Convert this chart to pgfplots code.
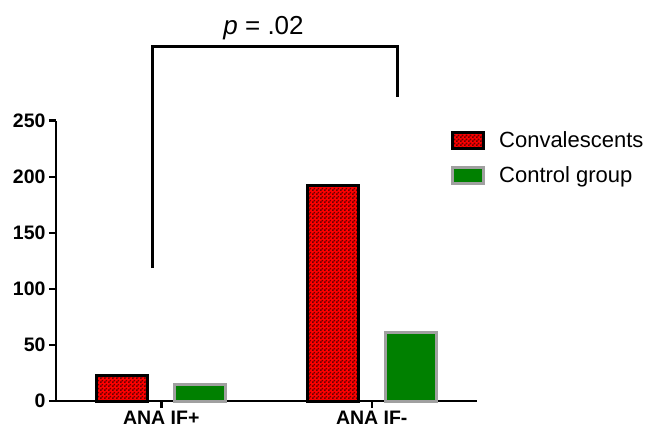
\documentclass[border=0pt]{standalone}
\usepackage{fontspec}
\setmainfont{Liberation Sans}
\usepackage{pgfplots}
\pgfplotsset{compat=1.18}
\usetikzlibrary{patterns}
\pgfdeclarepatternformonly{finecheck}{\pgfpointorigin}{\pgfpoint{4pt}{4pt}}{\pgfpoint{4pt}{4pt}}{%
  \pgfpathrectangle{\pgfpointorigin}{\pgfpoint{2pt}{2pt}}%
  \pgfpathrectangle{\pgfpoint{2pt}{2pt}}{\pgfpoint{2pt}{2pt}}%
  \pgfusepath{fill}}
\definecolor{barred}{RGB}{255,0,0}
\definecolor{checkdark}{RGB}{105,0,0}
\definecolor{bargreen}{RGB}{0,128,0}
\definecolor{bargray}{RGB}{160,160,160}
\begin{document}
\begin{tikzpicture}
\useasboundingbox (-56pt,-33pt) rectangle (592pt,401pt);
\begin{axis}[
  scale only axis,
  width=421pt, height=280.3pt,
  xmin=-0.5, xmax=1.5, ymin=0, ymax=250,
  axis lines=left,
  axis line style={-, line width=2.5pt},
  every tick/.style={black, line width=2.5pt},
  major tick length=7pt,
  tick align=outside,
  xtick={0,1}, xticklabels={ANA IF+, ANA IF-},
  ytick={0,50,100,150,200,250},
  /pgf/number format/assume math mode=true,
  ticklabel style={font=\bfseries\fontsize{19.5}{21}\selectfont},
  clip=false,
  legend style={at={(0.931,0.975)}, anchor=north west, draw=none, fill=none,
    font=\fontsize{22}{24}\selectfont, cells={anchor=west}, row sep=13pt,
    /tikz/every odd column/.append style={column sep=12pt}},
  legend image code/.code={\draw[#1] (0pt,-8pt) rectangle (31pt,8pt);},
]
\addplot[ybar, bar width=51pt, bar shift=-39pt, draw=black, line width=3pt, fill=barred,
  postaction={pattern=finecheck, pattern color=checkdark}]
  coordinates {(0,23) (1,192)};
\addlegendentry{Convalescents}
\addplot[ybar, bar width=51pt, bar shift=39pt, draw=bargray, line width=3pt, fill=bargreen]
  coordinates {(0,15) (1,61)};
\addlegendentry{Control group}
\addplot[black, line width=2.5pt, sharp plot, forget plot]
  coordinates {(-0.042,118.6) (-0.042,316) (1.123,316) (1.123,271.5)};
\node[anchor=south, font=\fontsize{26}{28}\selectfont, inner sep=7pt] at (axis cs:0.486,316) {\textit{p} = .02};
\end{axis}
\end{tikzpicture}
\end{document}
